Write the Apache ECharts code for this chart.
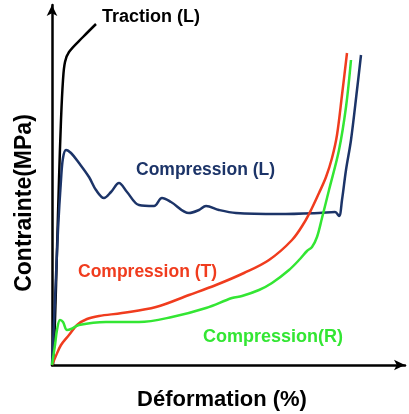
<!DOCTYPE html>
<html><head><meta charset="utf-8">
<script src="https://cdn.jsdelivr.net/npm/echarts@6/dist/echarts.min.js"></script>
<style>html,body{margin:0;padding:0;background:#fff}#c{width:409px;height:414px}</style>
</head><body><div id="c"></div>
<script>
// Values in arbitrary units (strain, stress) — schematic curves, no ticks
const tractionL = [[1,0],[3,45],[5,115],[7,185],[9,245],[11,285],[13,303],[17,313],[31,328],[44,341]];
const compressionL = [[0,0],[3,65],[6,135],[9,185],[11,207],[14,215],[19,212],[27,202],[37,188],[44,175],[52,167],[59,173],[67,182],[75,173],[87,160],[102,159],[110,167],[119,163],[137,152],[147,155],[154,159],[167,155],[184,152],[227,151],[267,152],[283,153],[287,149],[290,165],[294,195],[299,225],[305,275],[309,310]];
const compressionT = [[0,0],[3,7],[9,20],[17,30],[25,40],[35,46],[47,49],[70,52],[104,58],[137,70],[164,80],[192,92],[217,105],[240,125],[252,142],[260,157],[267,172],[274,188],[280,207],[285,230],[290,270],[295,312]];
const compressionR = [[0,0],[3,20],[5,35],[8,45],[11,43],[15,35],[19,36],[27,40],[54,43],[87,43],[120,48],[154,57],[180,67],[190,69],[207,75],[220,82],[237,95],[248,106],[255,114],[260,118],[265,128],[270,147],[277,175],[287,215],[294,258],[299,305]];
const curveNames = ['Traction (L)','Compression (L)','Compression (T)','Compression(R)'];
const curveColors = ['#000000','#1c3468','#f03c1e','#33e633'];
const xTitle = 'Déformation (%)';
const yTitle = 'Contrainte(MPa)';

const chart = echarts.init(document.getElementById('c'));
const font = '"Liberation Sans", Arial, sans-serif';
function mk(name, data, color){
  return {name, type:'line', data, showSymbol:false, smooth:0.35, lineStyle:{color, width:2.5}, itemStyle:{color}};
}
chart.setOption({
  animation:false,
  grid:{left:52, right:4, top:5, bottom:49, containLabel:false, outerBoundsMode:'none'},
  xAxis:{type:'value', min:0, max:353, axisLine:{lineStyle:{color:'#000', width:2.5}, symbol:['none','arrow'], symbolSize:[8,11]},
    axisTick:{show:false}, axisLabel:{show:false}, splitLine:{show:false}},
  yAxis:{type:'value', min:0, max:360, axisLine:{lineStyle:{color:'#000', width:2.5}, symbol:['none','arrow'], symbolSize:[8,11]},
    axisTick:{show:false}, axisLabel:{show:false}, splitLine:{show:false}},
  series:[
    mk(curveNames[0], tractionL, curveColors[0]),
    mk(curveNames[1], compressionL, curveColors[1]),
    mk(curveNames[2], compressionT, curveColors[2]),
    mk(curveNames[3], compressionR, curveColors[3])
  ],
  graphic:[
    {type:'text', left:102, top:8, style:{text:curveNames[0], fill:curveColors[0], font:'bold 18px '+font}},
    {type:'text', left:136, top:161, style:{text:curveNames[1], fill:curveColors[1], font:'bold 17.5px '+font}},
    {type:'text', left:78, top:263, style:{text:curveNames[2], fill:curveColors[2], font:'bold 17.5px '+font}},
    {type:'text', left:203, top:328, style:{text:curveNames[3], fill:curveColors[3], font:'bold 18px '+font}},
    {type:'text', x:222, y:400, style:{text:xTitle, fill:'#000', font:'bold 22px '+font, textAlign:'center', textVerticalAlign:'middle'}},
    {type:'text', x:25, y:203, rotation:Math.PI/2, style:{text:yTitle, fill:'#000', font:'bold 23px '+font, textAlign:'center', textVerticalAlign:'middle'}}
  ]
});
</script></body></html>
